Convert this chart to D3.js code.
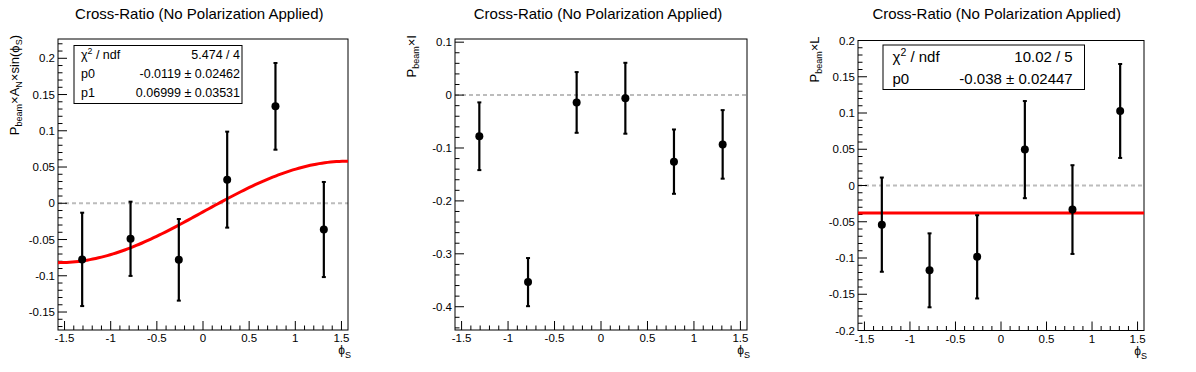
<!DOCTYPE html>
<html>
<head>
<meta charset="utf-8">
<script src="https://cdn.jsdelivr.net/npm/d3@7"></script>
<style>
body { margin: 0; background: #fff; }
svg { display: block; font-family: "Liberation Sans", Arial, sans-serif; }
</style>
</head>
<body>
<svg id="chart" width="1196" height="372"></svg>
<script>
// bin centres in phi_S, shared by all three pads
var phiS = [-1.309, -0.785, -0.262, 0.262, 0.785, 1.309]

// pad 1 : P_beam x A_N x sin(phi_S)
var valAN = [-0.0774, -0.049, -0.078, 0.0326, 0.1337, -0.0362]
var errAN = [0.0644, 0.0512, 0.0563, 0.0662, 0.0598, 0.0656]
var fitAN = [-0.0119, 0.06999]   // p0 + p1*sin(x)
var statAN = [["χ", " / ndf", "5.474 / 4"], ["p0", "", "-0.0119 ± 0.02462"], ["p1", "", "0.06999 ± 0.03531"]]

// pad 2 : P_beam x I
var valI = [-0.0778, -0.3535, -0.0139, -0.006, -0.1258, -0.0932]
var errI = [0.064, 0.0455, 0.0574, 0.067, 0.0608, 0.0648]

// pad 3 : P_beam x L
var valL = [-0.054, -0.117, -0.0984, 0.0495, -0.0332, 0.1028]
var errL = [0.065, 0.051, 0.0574, 0.067, 0.0612, 0.0648]
var fitL = [-0.038]              // p0
var statL = [["χ", " / ndf", "10.02 / 5"], ["p0", "", "-0.038 ± 0.02447"]]

var title = "Cross-Ratio (No Polarization Applied)"
var xTicks = [-1.5, -1, -0.5, 0, 0.5, 1, 1.5]

var svg = d3.select("#chart")
var padW = 1196 / 3

function drawPad(p) {
    var g = svg.append("g")
    var x = d3.scaleLinear().domain([-Math.PI / 2, Math.PI / 2]).range([p.left, p.right])
    var y = d3.scaleLinear().domain(p.yDomain).range([p.bottom, p.top])

    // title
    g.append("text").attr("x", p.index * padW + padW / 2).attr("y", 19)
        .attr("text-anchor", "middle").style("font-size", "15px").text(title)

    // zero line
    g.append("line").attr("x1", p.left).attr("x2", p.right)
        .attr("y1", y(0)).attr("y2", y(0))
        .attr("stroke", "#bcbcbc").attr("stroke-width", 2).attr("stroke-dasharray", "4,3")

    // frame
    g.append("rect").attr("x", p.left).attr("y", p.top)
        .attr("width", p.right - p.left).attr("height", p.bottom - p.top)
        .attr("fill", "none").attr("stroke", "#000").attr("stroke-width", 1)

    // x ticks, pointing into the frame (ROOT style)
    var xMinor = d3.range(-15, 16).map(function(i) { return i / 10 })
    g.selectAll(".xmin").data(xMinor).enter().append("line")
        .attr("x1", x).attr("x2", x)
        .attr("y1", p.bottom).attr("y2", function(d) { return p.bottom - (xTicks.indexOf(d) >= 0 ? 9 : 4.5) })
        .attr("stroke", "#000")
    g.selectAll(".xlab").data(xTicks).enter().append("text")
        .attr("x", x).attr("y", p.bottom + 12).attr("text-anchor", "middle")
        .style("font-size", "11.5px").text(function(d) { return d })

    // y ticks
    var step = p.yStep, sub = step / 5
    var lo = Math.ceil(p.yDomain[0] / sub - 1e-6), hi = Math.floor(p.yDomain[1] / sub + 1e-6)
    var yMinor = d3.range(lo, hi + 1).map(function(i) { return +(i * sub).toFixed(4) })
    var yMajor = yMinor.filter(function(d) { return Math.abs(d / step - Math.round(d / step)) < 1e-6 })
    g.selectAll(".ymin").data(yMinor).enter().append("line")
        .attr("y1", y).attr("y2", y)
        .attr("x1", p.left).attr("x2", function(d) { return p.left + (yMajor.indexOf(d) >= 0 ? 9 : 4.5) })
        .attr("stroke", "#000")
    g.selectAll(".ylab").data(yMajor).enter().append("text")
        .attr("x", p.left - 3).attr("y", y).attr("dy", "0.36em").attr("text-anchor", "end")
        .style("font-size", "11.5px").text(function(d) { return d })

    // axis titles
    var xt = g.append("text").attr("x", p.right + 3).attr("y", p.bottom + 24)
        .attr("text-anchor", "end").style("font-size", "12px")
    xt.append("tspan").text("ϕ")
    xt.append("tspan").attr("dy", 4).style("font-size", "9px").text("S")

    // y title: [text, is subscript]
    var yt = g.append("text").attr("transform", "translate(" + (p.left - 39) + "," + (p.top - 4) + ") rotate(-90)")
        .attr("text-anchor", "end").style("font-size", "13px")
    var wasSub = false
    p.yTitle.forEach(function(part) {
        var t = yt.append("tspan").text(part[0])
        if (part[1]) t.attr("dy", 3).style("font-size", "9px")
        else if (wasSub) t.attr("dy", -3)
        wasSub = !!part[1]
    })

    // fit
    if (p.fit) {
        var fx = d3.range(101).map(function(i) { return -Math.PI / 2 + i * Math.PI / 100 })
        g.append("path").datum(fx)
            .attr("d", d3.line().x(x).y(function(d) { return y(p.fit(d)) }))
            .attr("fill", "none").attr("stroke", "#ff0000").attr("stroke-width", 3)
    }

    // error bars + markers
    var pts = phiS.map(function(d, i) { return {x: d, v: p.vals[i], e: p.errs[i]} })
    var eb = g.selectAll(".pt").data(pts).enter().append("g")
    eb.append("line").attr("x1", function(d) { return x(d.x) }).attr("x2", function(d) { return x(d.x) })
        .attr("y1", function(d) { return y(d.v - d.e) }).attr("y2", function(d) { return y(d.v + d.e) })
        .attr("stroke", "#000").attr("stroke-width", 2.2)
    ;[-1, 1].forEach(function(s) {
        eb.append("line").attr("x1", function(d) { return x(d.x) - 2 }).attr("x2", function(d) { return x(d.x) + 2 })
            .attr("y1", function(d) { return y(d.v + s * d.e) }).attr("y2", function(d) { return y(d.v + s * d.e) })
            .attr("stroke", "#000").attr("stroke-width", 2)
    })
    eb.append("circle").attr("cx", function(d) { return x(d.x) }).attr("cy", function(d) { return y(d.v) })
        .attr("r", 4).attr("fill", "#000")

    // stats box
    if (p.stats) {
        var b = p.box
        g.append("rect").attr("x", b.x0).attr("y", b.y0).attr("width", b.x1 - b.x0).attr("height", b.y1 - b.y0)
            .attr("fill", "#fff").attr("stroke", "#000").attr("stroke-width", 1)
        p.stats.forEach(function(row, i) {
            var yy = b.base + i * b.dy
            var l = g.append("text").attr("x", b.tx0).attr("y", yy).style("font-size", b.fs + "px")
            l.append("tspan").text(row[0])
            if (row[1]) {
                l.append("tspan").attr("dy", -b.fs * 0.4).style("font-size", (b.fs * 0.7) + "px").text("2")
                l.append("tspan").attr("dy", b.fs * 0.4).text(row[1])
            }
            g.append("text").attr("x", b.tx1).attr("y", yy).attr("text-anchor", "end")
                .style("font-size", b.fs + "px").text(row[2])
        })
    }
}

drawPad({
    index: 0, left: 58, right: 348, top: 39, bottom: 330,
    yDomain: [-0.1748, 0.2266], yStep: 0.05,
    vals: valAN, errs: errAN,
    fit: function(t) { return fitAN[0] + fitAN[1] * Math.sin(t) },
    yTitle: [["P"], ["beam", 1], ["×A"], ["N", 1], ["×sin(ϕ"], ["S", 1], [")"]],
    stats: statAN,
    box: {x0: 74, x1: 242, y0: 45.5, y1: 103.5, tx0: 81, tx1: 240, base: 59.3, dy: 19, fs: 12.5}
})

drawPad({
    index: 1, left: 455, right: 747, top: 39, bottom: 330,
    yDomain: [-0.444, 0.106], yStep: 0.1,
    vals: valI, errs: errI,
    yTitle: [["P"], ["beam", 1], ["×I"]]
})

drawPad({
    index: 2, left: 858, right: 1144, top: 40.5, bottom: 330.5,
    yDomain: [-0.2, 0.2], yStep: 0.05,
    vals: valL, errs: errL,
    fit: function() { return fitL[0] },
    yTitle: [["P"], ["beam", 1], ["×L"]],
    stats: statL,
    box: {x0: 883, x1: 1084.5, y0: 45, y1: 89.5, tx0: 892.5, tx1: 1072.7, base: 62.3, dy: 22, fs: 15}
})
</script>
</body>
</html>
